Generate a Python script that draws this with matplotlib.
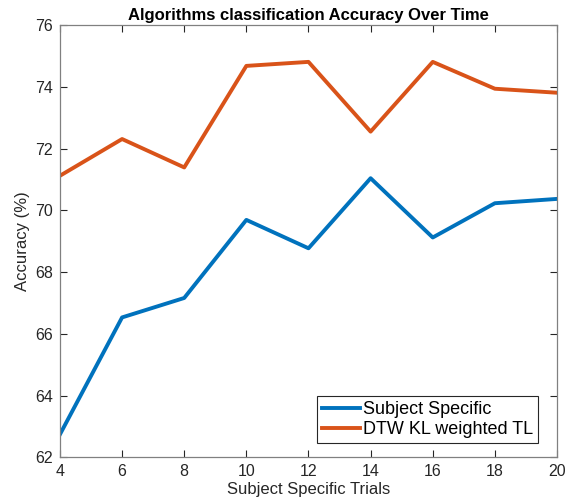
import matplotlib.pyplot as plt

plt.rcParams['font.family'] = ['Liberation Sans', 'DejaVu Sans']

trials = [4, 6, 8, 10, 12, 14, 16, 18, 20]
subject_specific = [62.74, 66.53, 67.16, 69.69, 68.77, 71.04, 69.12, 70.23, 70.37]
dtw_kl_tl = [71.12, 72.31, 71.39, 74.68, 74.81, 72.55, 74.81, 73.94, 73.81]

fig = plt.figure(figsize=(5.71, 5.03), dpi=100)
ax = fig.add_axes([0.105, 0.091, 0.8705, 0.859])

ax.plot(trials, subject_specific, color='#0072BD', linewidth=2.8,
        label='Subject Specific')
ax.plot(trials, dtw_kl_tl, color='#D95319', linewidth=2.8,
        label='DTW KL weighted TL')

ax.set_xlim(4, 20)
ax.set_ylim(62, 76)
ax.set_xticks(range(4, 21, 2))
ax.set_yticks(range(62, 77, 2))

for s in ax.spines.values():
    s.set_color('#808080')
    s.set_linewidth(0.9)
ax.tick_params(direction='in', top=True, right=True, length=5,
               color='#262626', labelcolor='#262626', labelsize=11.5, pad=5)

ax.set_title('Algorithms classification Accuracy Over Time',
             fontsize=12, fontweight='bold', pad=4)
ax.set_xlabel('Subject Specific Trials', fontsize=12, color='#262626',
              labelpad=2)
ax.set_ylabel('Accuracy (%)', fontsize=12, color='#262626', labelpad=4)

leg = ax.legend(loc='lower right', bbox_to_anchor=(0.962, 0.033),
                fontsize=13, fancybox=False, framealpha=1,
                edgecolor='#262626', handlelength=2.1, handletextpad=0.2,
                borderpad=0.25, labelspacing=0.2, borderaxespad=0)
leg.get_frame().set_linewidth(0.8)

fig.savefig('out.png', dpi=100)
